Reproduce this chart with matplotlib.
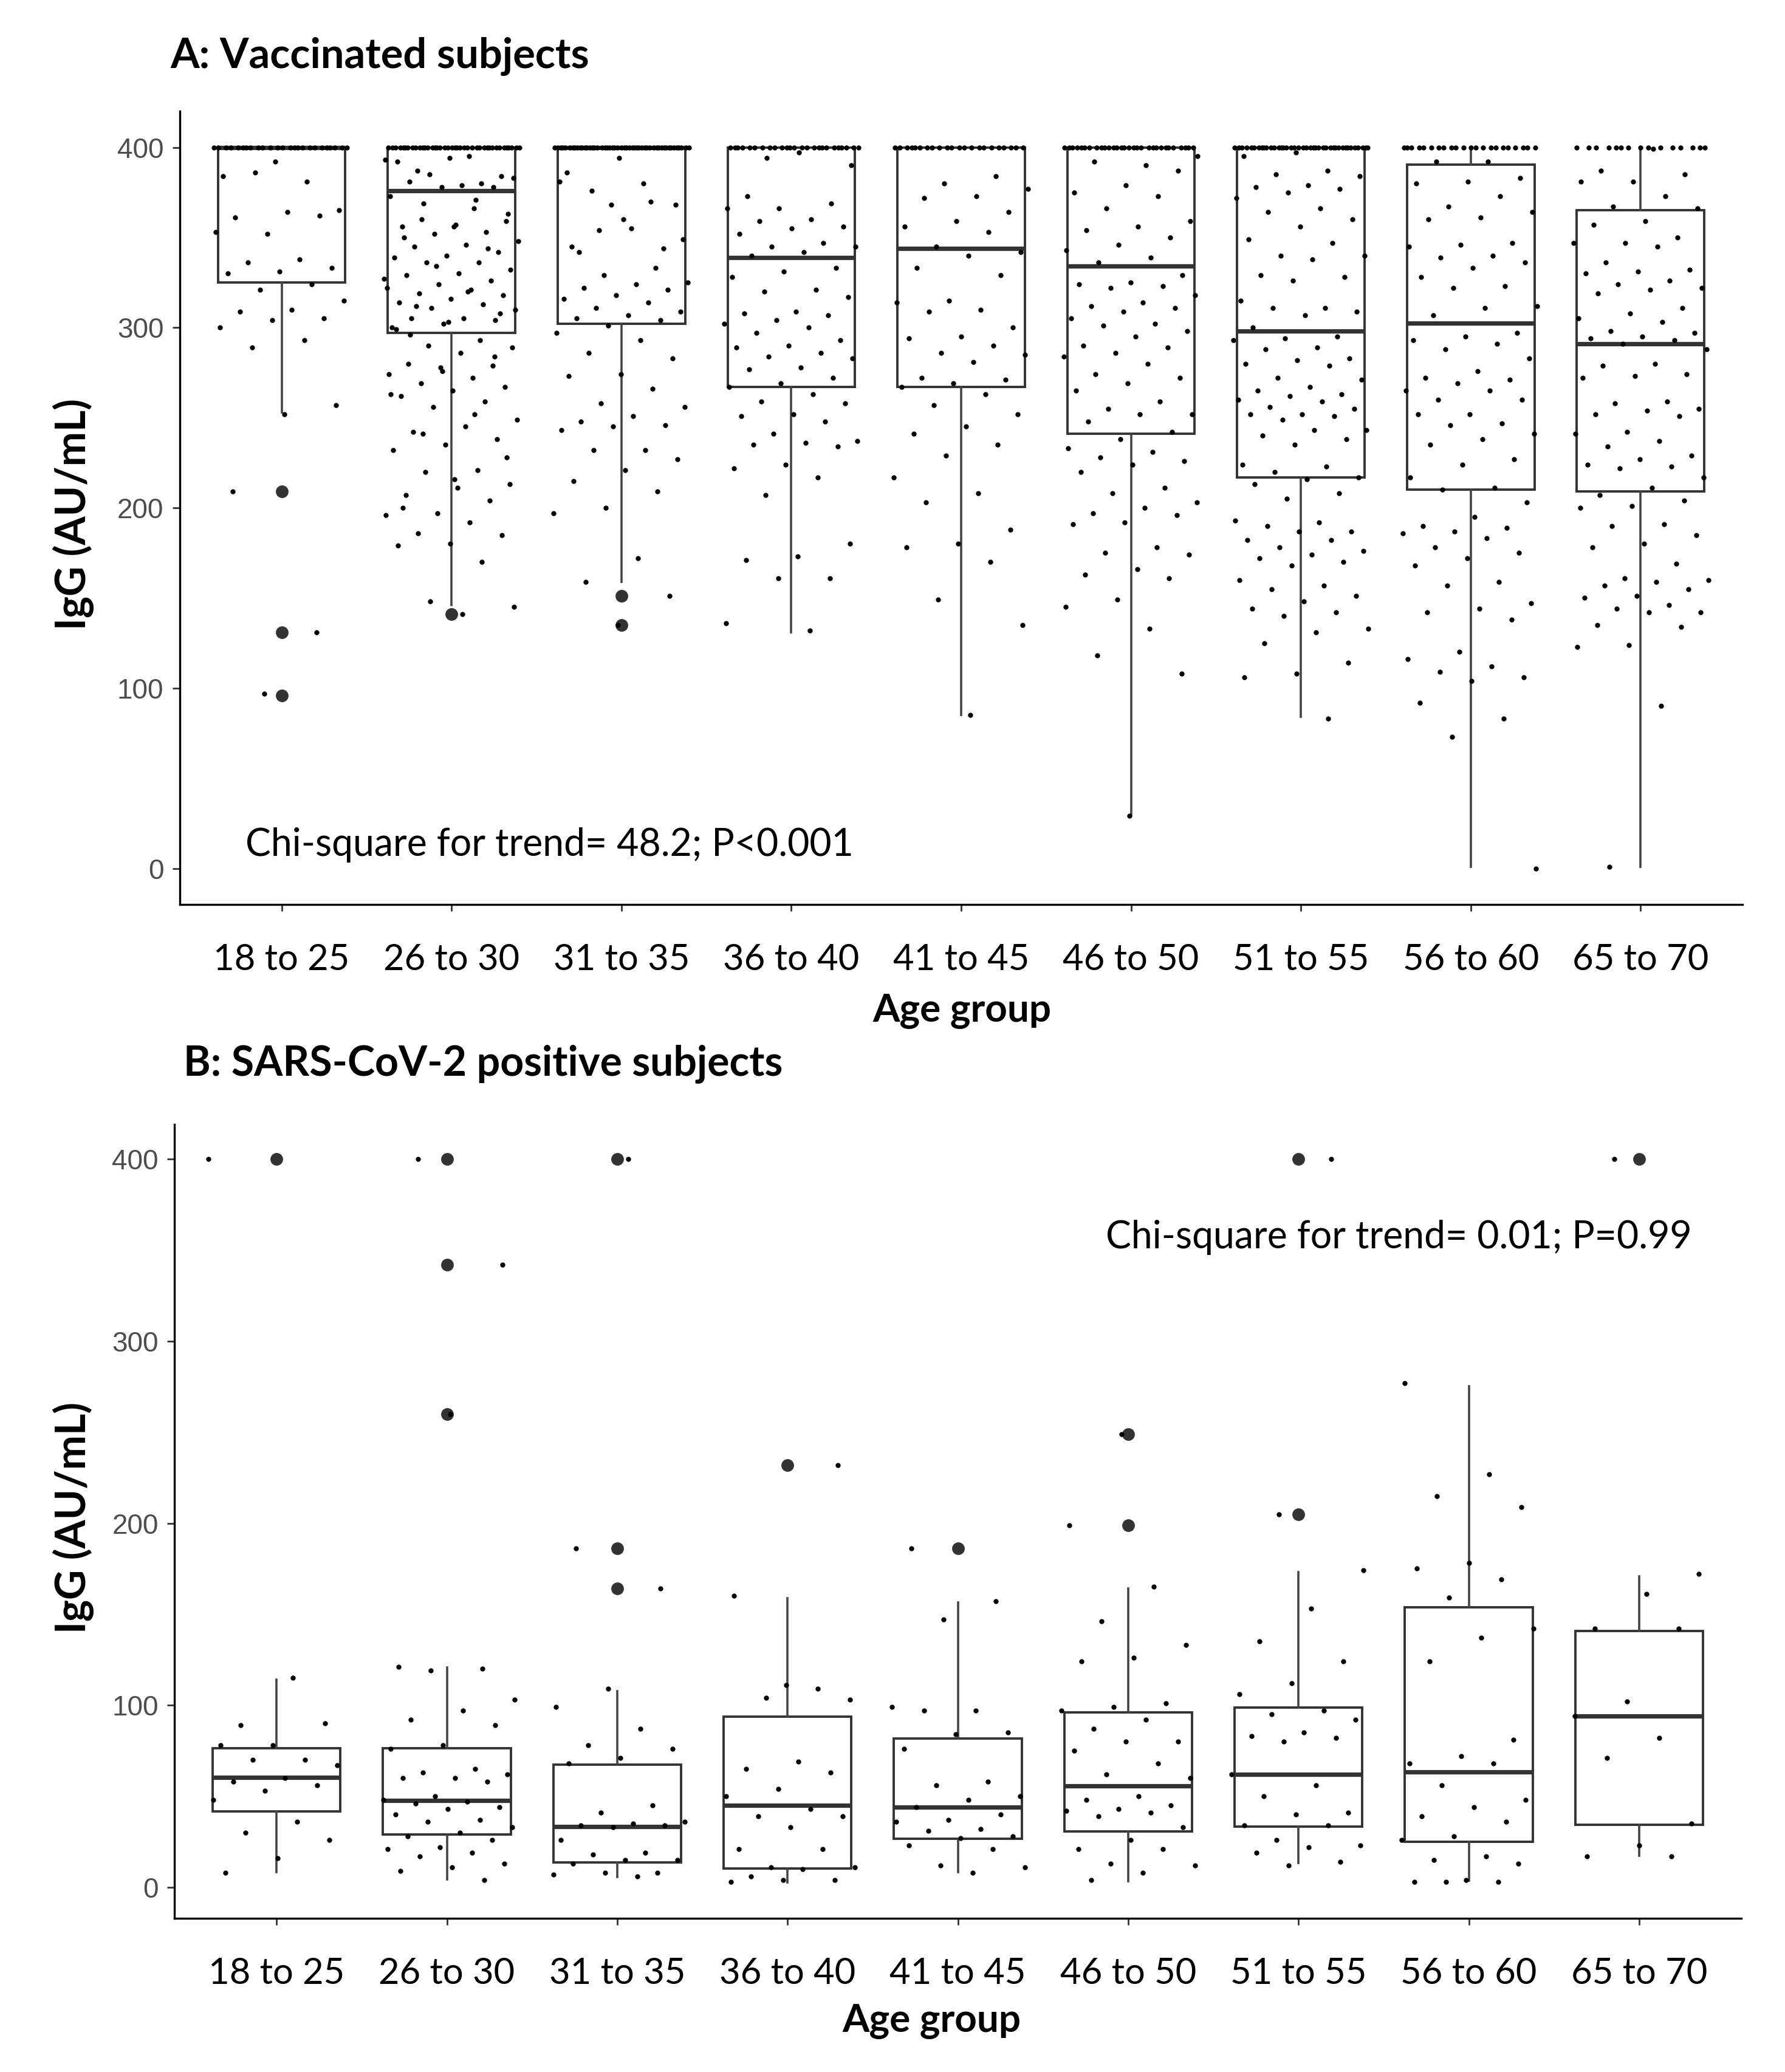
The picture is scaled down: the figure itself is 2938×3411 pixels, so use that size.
import matplotlib.pyplot as plt
import numpy as np

plt.rcParams['font.family'] = ['Lato', 'DejaVu Sans']

age_groups = ['18 to 25', '26 to 30', '31 to 35', '36 to 40', '41 to 45',
              '46 to 50', '51 to 55', '56 to 60', '65 to 70']

# ---- panel A: vaccinated subjects, box summary ----
a_q1 = [325, 297, 302, 267, 267, 241, 217, 210, 209]
a_med = [400, 376, 400, 339, 344, 334, 298, 302.5, 291]
a_q3 = [400, 400, 400, 400, 400, 400, 400, 390.5, 365]
a_lo = [253, 146, 159, 131, 85, 30, 84, 1, 1]
a_hi = [400, 400, 400, 400, 400, 400, 400, 400, 400]
a_out = [[209, 131, 96], [141], [151, 135], [], [], [], [], [], []]

# panel A: individual values (jittered dots)
a_pts = [
    [400] * 25 + [392, 384, 381, 386, 365, 364, 361, 362, 352, 353, 338, 336, 333, 331,
                  330, 324, 321, 315, 310, 309, 305, 304, 300, 293, 289, 257, 252, 209, 131, 97],
    [400] * 40 + [393, 395, 387, 384, 394, 392, 380, 385, 383, 379, 381, 378, 378,
                  373, 366, 360, 359, 356, 356, 353, 352, 348, 346, 345, 342, 340, 339, 336,
                  336, 332, 330, 329, 326, 324, 322, 321, 319, 318, 316, 314, 313, 311, 310,
                  305, 305, 304, 302, 300, 371, 369, 363, 357, 350, 344, 334, 327, 320, 312,
                  308, 303, 299, 293, 290, 289, 286, 280, 279, 278, 274, 272, 269, 267, 265,
                  262, 259, 256, 249, 245, 242, 238, 235, 232, 221, 220, 213, 211, 207, 204,
                  197, 196, 192, 186, 185, 180, 179, 170, 148, 145, 141, 296, 284, 276, 263,
                  252, 241, 228, 216, 200],
    [400] * 50 + [394, 386, 370, 354, 349, 355, 342, 344, 368, 381, 380, 376, 368, 360,
                  345, 333, 329, 325, 324, 322, 321, 318, 316, 314, 311, 309, 307, 305, 304,
                  301, 297, 293, 286, 283, 274, 273, 266, 258, 256, 251, 248, 246, 245, 243,
                  232, 232, 227, 221, 215, 209, 200, 197, 172, 159, 151, 135],
    [400] * 25 + [394, 390, 397, 373, 369, 366, 366, 360, 359, 356, 355, 352, 347, 345,
                  345, 342, 340, 333, 331, 328, 321, 320, 317, 309, 308, 307, 304, 302, 300,
                  297, 293, 290, 289, 286, 284, 283, 278, 277, 272, 269, 267, 263, 259, 258,
                  252, 251, 248, 241, 237, 236, 235, 234, 224, 222, 217, 207, 180, 173, 171,
                  161, 161, 136, 132],
    [400] * 22 + [384, 380, 377, 373, 372, 364, 359, 356, 353, 345, 342, 340, 333, 329,
                  315, 314, 310, 309, 300, 295, 294, 290, 286, 285, 281, 272, 271, 269, 267,
                  263, 257, 252, 245, 241, 235, 229, 217, 208, 203, 188, 180, 178, 170, 149,
                  135, 85],
    [400] * 30 + [395, 390, 392, 387, 379, 375, 373, 366, 359, 356, 354, 350, 346, 343,
                  339, 336, 329, 325, 324, 323, 322, 318, 314, 312, 311, 309, 305, 302, 301,
                  298, 295, 290, 289, 286, 284, 280, 274, 272, 269, 265, 259, 255, 252, 252,
                  248, 242, 238, 233, 231, 228, 226, 224, 220, 211, 208, 203, 200, 197, 196,
                  192, 191, 178, 175, 174, 166, 163, 161, 149, 145, 133, 118, 108, 29],
    [400] * 40 + [397, 395, 387, 385, 384, 379, 378, 377, 375, 372, 366, 364, 360, 356,
                  349, 347, 340, 340, 338, 329, 328, 326, 315, 311, 311, 309, 307, 300, 295,
                  294, 293, 289, 288, 283, 282, 280, 279, 272, 271, 267, 265, 263, 262, 260,
                  259, 256, 255, 252, 252, 251, 249, 243, 243, 240, 238, 235, 224, 223, 220,
                  217, 216, 213, 208, 205, 193, 192, 190, 187, 187, 182, 182, 178, 176, 174,
                  172, 170, 168, 160, 157, 155, 151, 148, 144, 142, 140, 133, 131, 125, 114,
                  108, 106, 83],
    [400] * 22 + [392, 392, 383, 381, 380, 373, 367, 364, 361, 360, 347, 346, 345, 340,
                  339, 336, 333, 328, 323, 322, 312, 311, 307, 297, 295, 293, 291, 288, 283,
                  276, 272, 271, 269, 265, 265, 260, 260, 252, 252, 247, 246, 241, 238, 235,
                  227, 224, 217, 211, 210, 203, 195, 190, 189, 187, 186, 183, 178, 175, 172,
                  168, 159, 157, 147, 144, 142, 138, 120, 116, 112, 109, 106, 104, 92, 83,
                  73, 0],
    [400] * 15 + [399, 387, 385, 381, 381, 373, 367, 366, 359, 357, 350, 347, 347, 345,
                  336, 332, 331, 330, 326, 324, 322, 321, 319, 311, 308, 305, 303, 298, 297,
                  295, 294, 293, 291, 288, 280, 279, 274, 273, 272, 259, 258, 255, 254, 252,
                  251, 242, 241, 237, 234, 229, 227, 224, 223, 222, 217, 211, 207, 204, 201,
                  200, 191, 190, 185, 180, 178, 169, 161, 160, 159, 157, 155, 151, 150, 146,
                  144, 142, 142, 135, 134, 124, 123, 90, 1],
]

# ---- panel B: SARS-CoV-2 positive subjects ----
b_q1 = [41.8, 28.9, 13.8, 10.2, 26.7, 30.8, 33.5, 24.9, 34.4]
b_med = [60.4, 47.8, 33.5, 45, 44, 55.8, 62.1, 63.3, 94.2]
b_q3 = [76.4, 76.4, 67.3, 93.9, 81.6, 96.1, 98.6, 153.8, 140.8]
b_lo = [8.3, 4.2, 5.6, 2.8, 8.3, 3.3, 13.2, 3.6, 17.3]
b_hi = [114, 120.8, 107.7, 158.7, 156.5, 164.2, 173, 275.4, 170.8]
b_out = [[400], [400, 342, 260], [400, 186, 164], [232], [186], [249, 199],
         [400, 205], [], [400]]

b_pts = [
    [400, 115, 89, 90, 78, 78, 70, 70, 67, 60, 58, 56, 53, 48, 36, 30, 26, 16, 8],
    [400, 342, 260, 121, 120, 119, 103, 97, 92, 89, 78, 76, 65, 63, 62, 60, 60, 58, 50,
     48, 47, 46, 44, 43, 40, 37, 36, 33, 30, 28, 26, 22, 21, 19, 17, 13, 11, 9, 4],
    [400, 186, 164, 109, 99, 87, 78, 76, 71, 68, 45, 41, 36, 35, 34, 34, 33, 26, 19, 18,
     15, 15, 13, 8, 8, 7, 6],
    [232, 111, 160, 109, 104, 103, 69, 65, 63, 54, 50, 43, 39, 39, 33, 21, 21, 11, 11,
     10, 6, 4, 4, 3],
    [186, 157, 147, 99, 97, 97, 85, 84, 76, 58, 56, 50, 48, 44, 40, 37, 36, 32, 31, 28,
     27, 23, 21, 12, 11, 8],
    [249, 199, 165, 146, 133, 126, 124, 101, 99, 97, 92, 87, 80, 80, 75, 68, 62, 60, 50,
     48, 45, 43, 42, 41, 39, 33, 26, 21, 21, 13, 12, 8, 4],
    [400, 205, 174, 153, 135, 124, 112, 106, 97, 95, 92, 85, 83, 82, 80, 62, 56, 50, 41,
     40, 34, 34, 26, 23, 22, 19, 14, 12],
    [277, 227, 215, 209, 178, 175, 169, 159, 142, 137, 124, 81, 72, 68, 68, 56, 48, 44,
     39, 36, 28, 26, 17, 15, 13, 4, 3, 3, 3],
    [400, 172, 161, 142, 142, 102, 94, 82, 71, 35, 23, 17, 17],
]


def spread(n, k):
    # even, non-random horizontal spread of the dots (like geom_jitter width 0.4)
    return ((np.arange(n) * 0.6180339887 + 0.29 * k) % 1.0 - 0.5) * 0.8


def draw_panel(ax, q1, med, q3, lo, hi, out, pts, ylim):
    pos = np.arange(1, len(age_groups) + 1)
    stats = []
    for i in range(len(pos)):
        stats.append(dict(q1=q1[i], med=med[i], q3=q3[i], whislo=lo[i], whishi=hi[i],
                          fliers=out[i]))
    ax.bxp(stats, positions=pos, widths=0.75, showcaps=False, patch_artist=True,
           manage_ticks=False,
           boxprops=dict(facecolor='white', edgecolor='#333333', linewidth=1.4),
           medianprops=dict(color='#333333', linewidth=2.6, solid_capstyle='butt'),
           whiskerprops=dict(color='#444444', linewidth=1.3),
           flierprops=dict(marker='o', markerfacecolor='#333333', markeredgecolor='#333333',
                           markersize=6.5))
    for i, vals in enumerate(pts):
        ax.scatter(pos[i] + spread(len(vals), i), vals, s=9, c='black', linewidths=0,
                   zorder=4)
    ax.set_xlim(0.4, 9.6)
    ax.set_ylim(*ylim)
    ax.set_xticks(pos)
    ax.set_xticklabels(age_groups, fontsize=21.5)
    ax.set_yticks([0, 100, 200, 300, 400])
    ax.set_yticklabels(['0', '100', '200', '300', '400'], fontsize=16.5, color='#4D4D4D',
                       family='Liberation Sans')
    ax.tick_params(axis='x', length=4, width=1, color='#333333', pad=19)
    ax.tick_params(axis='y', length=4.5, width=1, color='#333333', pad=5)
    ax.spines['top'].set_visible(False)
    ax.spines['right'].set_visible(False)
    ax.spines['left'].set_linewidth(1.2)
    ax.spines['bottom'].set_linewidth(1.2)


fig = plt.figure(figsize=(14.69, 17.055), dpi=200)

ax1 = fig.add_axes([0.1007, 0.5635, 0.8755, 0.3828])
draw_panel(ax1, a_q1, a_med, a_q3, a_lo, a_hi, a_out, a_pts, (-20, 420))
ax1.text(0.786, 13, 'Chi-square for trend= 48.2; P<0.001', fontsize=22.5, ha='left',
         va='center')

ax2 = fig.add_axes([0.0977, 0.0742, 0.8778, 0.3831])
draw_panel(ax2, b_q1, b_med, b_q3, b_lo, b_hi, b_out, b_pts, (-17, 419))
ax2.text(5.87, 357, 'Chi-square for trend= 0.01; P=0.99', fontsize=22.5, ha='left',
         va='center')

fig.text(0.0956, 0.9672, 'A: Vaccinated subjects', fontsize=24.7, fontweight='bold',
         ha='left', va='baseline')
fig.text(0.1029, 0.4808, 'B: SARS-CoV-2 positive subjects', fontsize=24.5,
         fontweight='bold', ha='left', va='baseline')

fig.text(0.0412, 0.7517, 'IgG (AU/mL)', fontsize=24.5, fontweight='bold', rotation=90,
         ha='center', va='center')
fig.text(0.0412, 0.2674, 'IgG (AU/mL)', fontsize=24.5, fontweight='bold', rotation=90,
         ha='center', va='center')

fig.text(0.539, 0.5072, 'Age group', fontsize=23, fontweight='bold', ha='center',
         va='baseline')
fig.text(0.522, 0.0197, 'Age group', fontsize=23, fontweight='bold', ha='center',
         va='baseline')

fig.savefig('out.png', dpi=200)
